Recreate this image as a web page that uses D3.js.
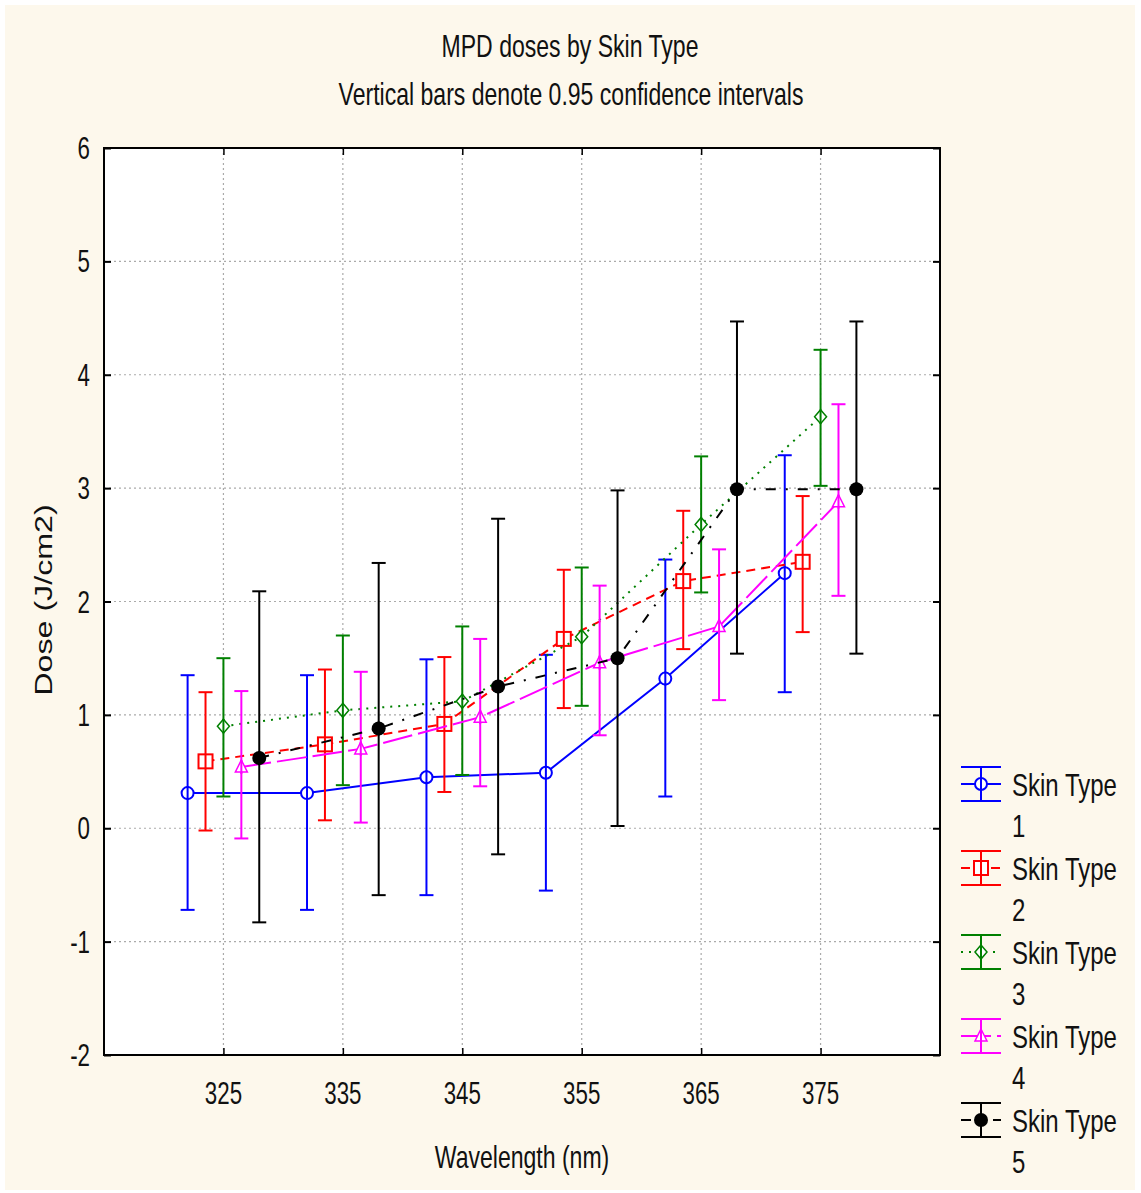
<!DOCTYPE html>
<html>
<head>
<meta charset="utf-8">
<script src="https://cdn.jsdelivr.net/npm/d3@7"></script>
<style>
  body { margin: 0; background: #fff; }
  svg { display: block; }
  text { font-family: "Liberation Sans", Arial, sans-serif; fill: #111; }
</style>
</head>
<body>
<svg id="chart" width="1141" height="1193"></svg>
<script>
// ---- data ----
const wavelengths = [325, 335, 345, 355, 365, 375];
const skinTypes = ["Skin Type 1", "Skin Type 2", "Skin Type 3", "Skin Type 4", "Skin Type 5"];

const meanST1 = [0.31, 0.31, 0.45, 0.49, 1.32, 2.25];
const lowST1  = [-0.72, -0.72, -0.59, -0.55, 0.28, 1.20];
const highST1 = [1.35, 1.35, 1.49, 1.53, 2.37, 3.29];

const meanST2 = [0.59, 0.74, 0.92, 1.67, 2.18, 2.35];
const lowST2  = [-0.02, 0.07, 0.32, 1.06, 1.58, 1.73];
const highST2 = [1.20, 1.40, 1.51, 2.28, 2.80, 2.93];

const meanST3 = [0.90, 1.04, 1.12, 1.69, 2.68, 3.63];
const lowST3  = [0.28, 0.38, 0.47, 1.08, 2.08, 3.02];
const highST3 = [1.50, 1.70, 1.78, 2.30, 3.28, 4.22];

const meanST4 = [0.54, 0.70, 0.98, 1.46, 1.78, 2.88];
const lowST4  = [-0.09, 0.05, 0.37, 0.82, 1.13, 2.05];
const highST4 = [1.21, 1.38, 1.67, 2.14, 2.46, 3.74];

const meanST5 = [0.62, 0.88, 1.25, 1.50, 2.99, 2.99];
const lowST5  = [-0.83, -0.59, -0.23, 0.02, 1.54, 1.54];
const highST5 = [2.09, 2.34, 2.73, 2.98, 4.47, 4.47];

const yTicks = [-2, -1, 0, 1, 2, 3, 4, 5, 6];

// series styling (offset in nm so bars don't overlap)
const series = [
  { name: skinTypes[0], mean: meanST1, low: lowST1, high: highST1, color: "#0000ff", dash: null,        marker: "circle",   offset: -3 },
  { name: skinTypes[1], mean: meanST2, low: lowST2, high: highST2, color: "#ff0000", dash: "9,6",       marker: "square",   offset: -1.5 },
  { name: skinTypes[2], mean: meanST3, low: lowST3, high: highST3, color: "#008000", dash: "2,6",       marker: "diamond",  offset: 0 },
  { name: skinTypes[3], mean: meanST4, low: lowST4, high: highST4, color: "#ff00ff", dash: "30,6",      marker: "triangle", offset: 1.5 },
  { name: skinTypes[4], mean: meanST5, low: lowST5, high: highST5, color: "#000000", dash: "10,10,2,10", marker: "dot",     offset: 3 }
];

const svg = d3.select("#chart");
const plot = { left: 104, right: 940, top: 148, bottom: 1055 };

// condensed text helper (the reference uses a narrow face)
function narrowText(parent, tx, ty, str, size, anchor, sx = 0.72) {
  return parent.append("text")
    .attr("transform", `translate(${tx},${ty}) scale(${sx},1)`)
    .attr("font-size", size).attr("text-anchor", anchor || "start").text(str);
}

// background
svg.append("rect").attr("x", 5).attr("y", 5).attr("width", 1130).attr("height", 1185).attr("fill", "#fdf8ec");
svg.append("rect").attr("x", plot.left).attr("y", plot.top)
  .attr("width", plot.right - plot.left).attr("height", plot.bottom - plot.top).attr("fill", "#fff");

const x = d3.scaleLinear().domain([315, 385]).range([plot.left, plot.right]);
const y = d3.scaleLinear().domain([-2, 6]).range([plot.bottom, plot.top]);

// grid
const grid = svg.append("g").attr("stroke", "#aaa").attr("stroke-dasharray", "2,3").attr("stroke-width", 1.2);
wavelengths.forEach(w => grid.append("line").attr("x1", x(w)).attr("x2", x(w)).attr("y1", plot.top).attr("y2", plot.bottom));
yTicks.slice(1, -1).forEach(t => grid.append("line").attr("x1", plot.left).attr("x2", plot.right).attr("y1", y(t)).attr("y2", y(t)));

// axes (ticks pointing inward)
svg.append("g").attr("transform", `translate(${plot.left},0)`)
  .call(d3.axisRight(y).tickValues(yTicks).tickSize(7).tickFormat(""))
  .call(g => g.select(".domain").remove())
  .selectAll("line").attr("stroke", "#000").attr("stroke-width", 2);
svg.append("g").attr("transform", `translate(${plot.right},0)`)
  .call(d3.axisLeft(y).tickValues(yTicks).tickSize(7).tickFormat(""))
  .call(g => g.select(".domain").remove())
  .selectAll("line").attr("stroke", "#000").attr("stroke-width", 2);
svg.append("g").attr("transform", `translate(0,${plot.bottom})`)
  .call(d3.axisTop(x).tickValues(wavelengths).tickSize(7).tickFormat(""))
  .call(g => g.select(".domain").remove())
  .selectAll("line").attr("stroke", "#000").attr("stroke-width", 1.5);
svg.append("g").attr("transform", `translate(0,${plot.top})`)
  .call(d3.axisBottom(x).tickValues(wavelengths).tickSize(7).tickFormat(""))
  .call(g => g.select(".domain").remove())
  .selectAll("line").attr("stroke", "#000").attr("stroke-width", 1.5);

// tick labels
const yLab = svg.append("g");
yTicks.forEach(t => narrowText(yLab, plot.left - 14, y(t) + 11, t, 31, "end"));
const xLab = svg.append("g");
wavelengths.forEach(w => narrowText(xLab, x(w), plot.bottom + 49, w, 31, "middle"));

// frame
svg.append("rect").attr("x", plot.left).attr("y", plot.top)
  .attr("width", plot.right - plot.left).attr("height", plot.bottom - plot.top)
  .attr("fill", "none").attr("stroke", "#000").attr("stroke-width", 2);

// titles
narrowText(svg, 570, 57, "MPD doses by Skin Type", 32, "middle");
narrowText(svg, 571, 105, "Vertical bars denote 0.95 confidence intervals", 32, "middle");
narrowText(svg, 522, 1168, "Wavelength (nm)", 32, "middle");
svg.append("text").attr("transform", "translate(52,600) rotate(-90) scale(1.4,1)")
  .attr("font-size", 23).attr("text-anchor", "middle").text("Dose (J/cm2)");

// marker drawing helper
function drawMarker(g, type, color, cx, cy) {
  if (type === "circle") {
    g.append("circle").attr("cx", cx).attr("cy", cy).attr("r", 6).attr("fill", "#fff").attr("stroke", color).attr("stroke-width", 2);
  } else if (type === "square") {
    g.append("rect").attr("x", cx - 7).attr("y", cy - 7).attr("width", 14).attr("height", 14).attr("fill", "#fff").attr("stroke", color).attr("stroke-width", 2);
  } else if (type === "diamond") {
    g.append("path").attr("d", `M${cx},${cy - 7}L${cx + 6},${cy}L${cx},${cy + 7}L${cx - 6},${cy}Z`).attr("fill", "#fff").attr("stroke", color).attr("stroke-width", 1.5);
  } else if (type === "triangle") {
    g.append("path").attr("d", `M${cx},${cy - 7}L${cx + 6},${cy + 5}L${cx - 6},${cy + 5}Z`).attr("fill", "#fff").attr("stroke", color).attr("stroke-width", 1.5);
  } else {
    g.append("circle").attr("cx", cx).attr("cy", cy).attr("r", 7).attr("fill", color);
  }
  // error bar passes through the marker
  g.append("line").attr("x1", cx).attr("x2", cx).attr("y1", cy - 7).attr("y2", cy + 7).attr("stroke", color).attr("stroke-width", 2);
}

const cap = 7;
series.forEach(s => {
  const pts = wavelengths.map((w, i) => ({ x: x(w + s.offset), m: y(s.mean[i]), lo: y(s.low[i]), hi: y(s.high[i]) }));
  const g = svg.append("g");

  // connecting line
  g.append("path")
    .attr("d", d3.line().x(d => d.x).y(d => d.m)(pts))
    .attr("fill", "none").attr("stroke", s.color).attr("stroke-width", 2)
    .attr("stroke-dasharray", s.dash);

  // error bars
  pts.forEach(p => {
    g.append("line").attr("x1", p.x).attr("x2", p.x).attr("y1", p.hi).attr("y2", p.lo).attr("stroke", s.color).attr("stroke-width", 2);
    g.append("line").attr("x1", p.x - cap).attr("x2", p.x + cap).attr("y1", p.hi).attr("y2", p.hi).attr("stroke", s.color).attr("stroke-width", 2);
    g.append("line").attr("x1", p.x - cap).attr("x2", p.x + cap).attr("y1", p.lo).attr("y2", p.lo).attr("stroke", s.color).attr("stroke-width", 2);
    drawMarker(g, s.marker, s.color, p.x, p.m);
  });
});

// legend
const legend = svg.append("g");
series.forEach((s, i) => {
  const cy = 784 + i * 84;
  const cx = 981;
  const lg = legend.append("g");
  lg.append("line").attr("x1", cx - 20).attr("x2", cx + 20).attr("y1", cy - 17).attr("y2", cy - 17).attr("stroke", s.color).attr("stroke-width", 2);
  lg.append("line").attr("x1", cx - 20).attr("x2", cx + 20).attr("y1", cy + 17).attr("y2", cy + 17).attr("stroke", s.color).attr("stroke-width", 2);
  lg.append("line").attr("x1", cx).attr("x2", cx).attr("y1", cy - 17).attr("y2", cy + 17).attr("stroke", s.color).attr("stroke-width", 2);
  lg.append("line").attr("x1", cx - 20).attr("x2", cx + 20).attr("y1", cy).attr("y2", cy)
    .attr("stroke", s.color).attr("stroke-width", 2).attr("stroke-dasharray", s.dash);
  drawMarker(lg, s.marker, s.color, cx, cy);
  const parts = s.name.split(" ");
  narrowText(lg, 1012, cy + 12, parts.slice(0, 2).join(" "), 32, "start", 0.75);
  narrowText(lg, 1012, cy + 53, parts[2], 32, "start", 0.75);
});
</script>
</body>
</html>
